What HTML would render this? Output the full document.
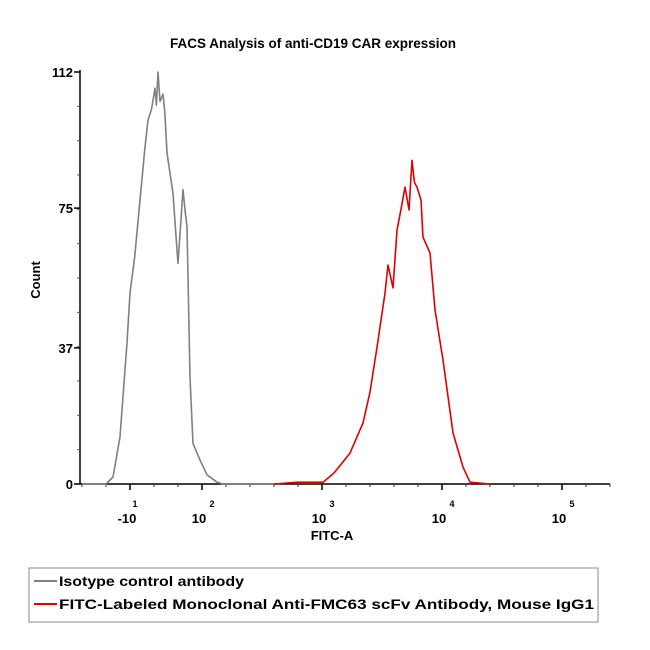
<!DOCTYPE html>
<html><head><meta charset="utf-8"><style>
html,body{margin:0;padding:0;background:#fff;}
svg{display:block;font-family:"Liberation Sans",sans-serif;}
</style></head><body>
<svg id="chart" width="650" height="650" viewBox="0 0 650 650">
<text x="313" y="48" text-anchor="middle" font-size="13.5" font-weight="bold">FACS Analysis of anti-CD19 CAR expression</text>
<text transform="translate(40,280) rotate(-90)" text-anchor="middle" font-size="13" font-weight="bold">Count</text>
<text x="332" y="540" text-anchor="middle" font-size="13" font-weight="bold">FITC-A</text>
<g id="axes"></g>
<g id="series"></g>
<g>
<rect x="29" y="568" width="569" height="54" fill="#fff" stroke="#888" stroke-width="1"/>
<g>
<line x1="34" y1="581" x2="57" y2="581" stroke="#808080" stroke-width="2"/>
<text x="59" y="586" font-size="13.5" font-weight="bold" textLength="185" lengthAdjust="spacingAndGlyphs">Isotype control antibody</text>
</g>
<g>
<line x1="34" y1="604" x2="57" y2="604" stroke="#e00000" stroke-width="2"/>
<text x="59" y="609" font-size="13.5" font-weight="bold" textLength="535" lengthAdjust="spacingAndGlyphs">FITC-Labeled Monoclonal Anti-FMC63 scFv Antibody, Mouse IgG1</text>
</g>
</g>
</svg>
<script>
// Data (x in logicle decade units, y in counts)
const yTicks = [0, 37, 75, 112];
const xDecades = [1.4, 2, 3, 4, 5];
const xTickBase = ["-10", "10", "10", "10", "10"];
const xTickExp = ["1", "2", "3", "4", "5"];
const isoX = [1.0, 1.2, 1.258, 1.317, 1.375, 1.40, 1.44, 1.483, 1.525, 1.55, 1.58, 1.608, 1.62, 1.633, 1.65, 1.675, 1.69, 1.708, 1.758, 1.792, 1.80, 1.842, 1.86, 1.875, 1.90, 1.925, 1.983, 2.042, 2.125, 2.175, 2.6];
const isoY = [0, 0, 1.9, 12.8, 38.3, 51.9, 62, 77.2, 91.6, 98.9, 102, 107.6, 103, 112, 104, 106, 101, 90, 79, 63.6, 60, 80, 74, 70, 29, 11, 6.5, 2.5, 0.5, 0, 0];
const fitcX = [2.6, 2.8, 3.008, 3.1, 3.233, 3.342, 3.4, 3.458, 3.525, 3.55, 3.592, 3.625, 3.66, 3.692, 3.725, 3.75, 3.77, 3.792, 3.825, 3.842, 3.9, 3.942, 4.008, 4.092, 4.175, 4.233, 4.4];
const fitcY = [0, 0.5, 0.5, 3, 8.4, 16.6, 25, 37.2, 51.9, 59.5, 53.3, 69, 75, 80.7, 74.5, 88, 82, 80.7, 77.2, 67.1, 62.8, 47.3, 33.7, 13.9, 4.6, 0.5, 0];

const X0 = 80, X1 = 610, Y0 = 484, Y1 = 72;
function sx(u){ return 322 + 120 * (u - 3); }
function sy(c){ return Y0 - (c / 112) * (Y0 - Y1); }
const NS = "http://www.w3.org/2000/svg";
const axes = document.getElementById('axes');
const series = document.getElementById('series');
function mk(tag, attrs, parent){ const e = document.createElementNS(NS, tag); for (const k in attrs) e.setAttribute(k, attrs[k]); parent.appendChild(e); return e; }

const yl = mk('line', {x1:X0, y1:Y1-2, x2:X0, y2:Y0, stroke:'#000', 'stroke-width':1.5}, axes);


const xl = mk('line', {x1:X0, y1:Y0, x2:X1, y2:Y0, stroke:'#000', 'stroke-width':1.5}, axes);



for (let i = 0; i <= 12; i++) {
  const c = i * 112 / 12;
  mk('line', {x1:X0-3, y1:sy(c), x2:X0, y2:sy(c), stroke:'#555', 'stroke-width':1}, axes);
}
yTicks.forEach(v => {
  mk('line', {x1:X0-6, y1:sy(v), x2:X0, y2:sy(v), stroke:'#000', 'stroke-width':1.5}, axes);
  const t = mk('text', {x:X0-7, y:sy(v)+5, 'text-anchor':'end', 'font-size':13, 'font-weight':'bold'}, axes);
  t.textContent = v;
  
  
});
for (let u = 1.0; u < 5.45; u += 0.2) {
  mk('line', {x1:sx(u), y1:Y0, x2:sx(u), y2:Y0+3, stroke:'#333', 'stroke-width':1}, axes);
}
xDecades.forEach((u, i) => {
  const x = sx(u);
  mk('line', {x1:x, y1:Y0, x2:x, y2:Y0+6, stroke:'#000', 'stroke-width':1.5}, axes);
  const t = mk('text', {x:x-3, y:Y0+39, 'text-anchor':'middle', 'font-size':13, 'font-weight':'bold'}, axes);
  t.textContent = xTickBase[i];
  
  
  const e = mk('text', {x:x+ (i===0?5:10), y:Y0+23, 'text-anchor':'middle', 'font-size':9, 'font-weight':'bold'}, axes);
  e.textContent = xTickExp[i];
  
  
});

function path(xs, ys, color, name){
  const d = xs.map((u, i) => (i ? 'L' : 'M') + sx(u).toFixed(1) + ',' + sy(ys[i]).toFixed(1)).join(' ');
  const p = mk('path', {d:d, fill:'none', stroke:color, 'stroke-width':1.6, 'stroke-linejoin':'round'}, series);
  
  
}
path(isoX, isoY, '#808080', 'isotype-histogram');
path(fitcX, fitcY, '#e00000', 'fitc-histogram');
</script>
</body></html>
